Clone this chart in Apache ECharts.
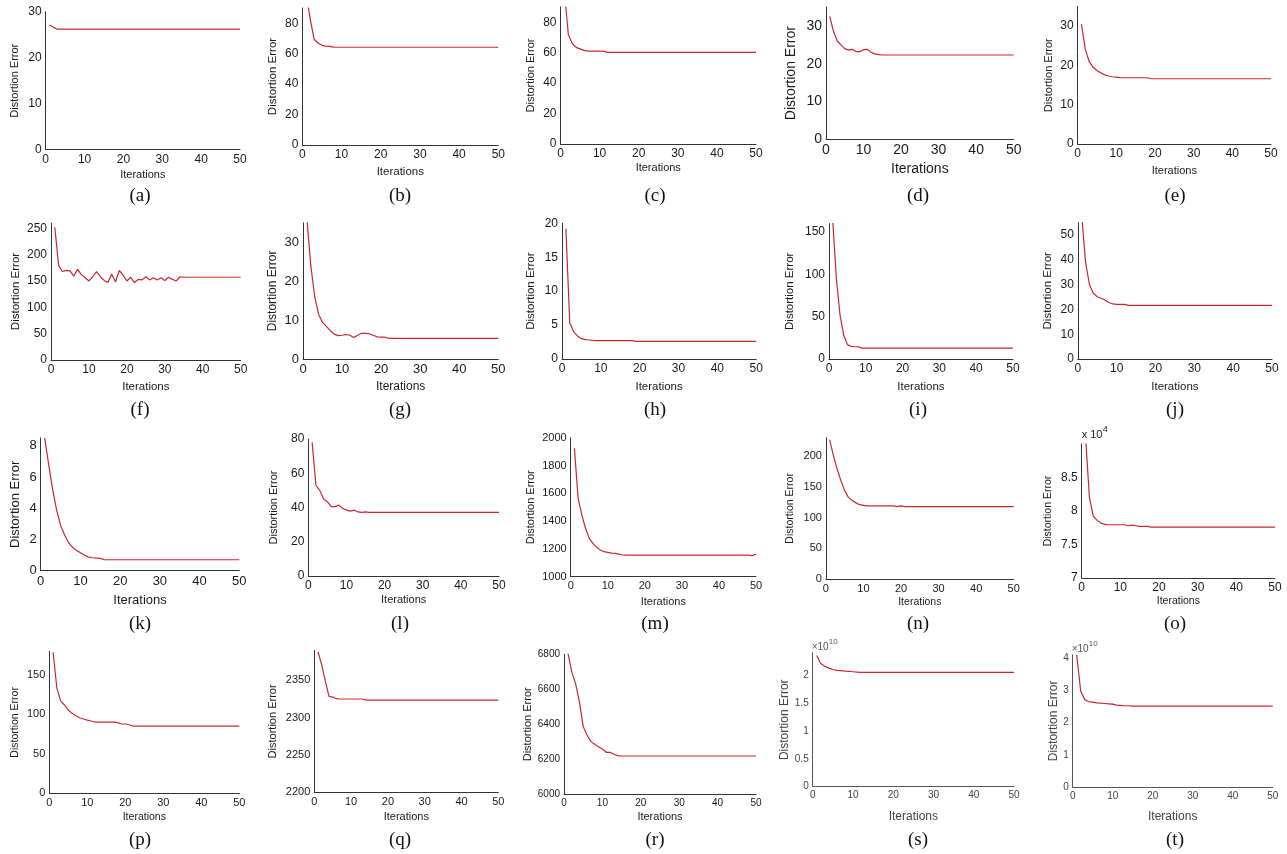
<!DOCTYPE html>
<html><head><meta charset="utf-8">
<script src="https://cdn.jsdelivr.net/npm/echarts@6/dist/echarts.min.js"></script>
<style>html,body{margin:0;padding:0;background:#fff}#c{width:1287px;height:854px}</style>
</head><body><div id="c"></div>
<script>
// ---------------- DATA ----------------
const iterations = [1,2,3,4,5,6,7,8,9,10,11,12,13,14,15,16,17,18,19,20,21,22,23,24,25,26,27,28,29,30,31,32,33,34,35,36,37,38,39,40,41,42,43,44,45,46,47,48,49,50];
const xTicks = [0,10,20,30,40,50];
const panelLabels = ['(a)','(b)','(c)','(d)','(e)','(f)','(g)','(h)','(i)','(j)','(k)','(l)','(m)','(n)','(o)','(p)','(q)','(r)','(s)','(t)'];

const errA = [27.1,26.6,26.2,26.2,26.2,26.2,26.2,26.2,26.2,26.2, 26.2,26.2,26.2,26.2,26.2,26.2,26.2,26.2,26.2,26.2, 26.2,26.2,26.2,26.2,26.2,26.2,26.2,26.2,26.2,26.2, 26.2,26.2,26.2,26.2,26.2,26.2,26.2,26.2,26.2,26.2, 26.2,26.2,26.2,26.2,26.2,26.2,26.2,26.2,26.2,26.2];
const errB = [100,83,69.5,67,65.5,65,64.8,64.3,64.2,64.2, 64.2,64.2,64.2,64.2,64.2,64.2,64.2,64.2,64.2,64.2, 64.2,64.2,64.2,64.2,64.2,64.2,64.2,64.2,64.2,64.2, 64.2,64.2,64.2,64.2,64.2,64.2,64.2,64.2,64.2,64.2, 64.2,64.2,64.2,64.2,64.2,64.2,64.2,64.2,64.2,64.2];
const errC = [100,72,66,63.5,62.5,61.5,61,61,61,61, 61,60.2,60.2,60.2,60.2,60.2,60.2,60.2,60.2,60.2, 60.2,60.2,60.2,60.2,60.2,60.2,60.2,60.2,60.2,60.2, 60.2,60.2,60.2,60.2,60.2,60.2,60.2,60.2,60.2,60.2, 60.2,60.2,60.2,60.2,60.2,60.2,60.2,60.2,60.2,60.2];
const errD = [32.5,28.5,26,25,24,23.6,23.8,23.2,23.2,23.7, 23.8,23,22.6,22.4,22.3,22.3,22.3,22.3,22.3,22.3, 22.3,22.3,22.3,22.3,22.3,22.3,22.3,22.3,22.3,22.3, 22.3,22.3,22.3,22.3,22.3,22.3,22.3,22.3,22.3,22.3, 22.3,22.3,22.3,22.3,22.3,22.3,22.3,22.3,22.3,22.3];
const errE = [30.5,24,21,19.5,18.7,18.1,17.6,17.3,17.1,17.0, 16.9,16.85,16.85,16.85,16.85,16.85,16.85,16.85,16.6,16.6, 16.6,16.6,16.6,16.6,16.6,16.6,16.6,16.6,16.6,16.6, 16.6,16.6,16.6,16.6,16.6,16.6,16.6,16.6,16.6,16.6, 16.6,16.6,16.6,16.6,16.6,16.6,16.6,16.6,16.6,16.6];
const errF = [252,180,168,170,169,159,172,162,156,150, 158,168,158,151,147,163,148,170,161,150, 157,147,153,152,158,152,156,152,156,151, 157,153,150,158,157,157,157,157,157,157, 157,157,157,157,157,157,157,157,157,157];
const errG = [36,24,16,11.5,9.4,8.4,7.2,6.4,6.0,6.1, 6.3,6.1,5.5,6.1,6.6,6.6,6.5,6.1,5.7,5.6, 5.6,5.3,5.3,5.3,5.3,5.3,5.3,5.3,5.3,5.3, 5.3,5.3,5.3,5.3,5.3,5.3,5.3,5.3,5.3,5.3, 5.3,5.3,5.3,5.3,5.3,5.3,5.3,5.3,5.3,5.3];
const errH = [19.2,5.3,4.0,3.4,3.0,2.85,2.8,2.75,2.72,2.72, 2.72,2.72,2.72,2.72,2.72,2.72,2.72,2.72,2.6,2.6, 2.6,2.6,2.6,2.6,2.6,2.6,2.6,2.6,2.6,2.6, 2.6,2.6,2.6,2.6,2.6,2.6,2.6,2.6,2.6,2.6, 2.6,2.6,2.6,2.6,2.6,2.6,2.6,2.6,2.6,2.6];
const errI = [165,95,52,28,17,15,14.5,14.5,12.8,12.8, 12.8,12.8,12.8,12.8,12.8,12.8,12.8,12.8,12.8,12.8, 12.8,12.8,12.8,12.8,12.8,12.8,12.8,12.8,12.8,12.8, 12.8,12.8,12.8,12.8,12.8,12.8,12.8,12.8,12.8,12.8, 12.8,12.8,12.8,12.8,12.8,12.8,12.8,12.8,12.8,12.8];
const errJ = [58,39,30,26.5,25.1,24.5,23.8,22.8,22.2,22, 22,22,21.6,21.6,21.6,21.6,21.6,21.6,21.6,21.6, 21.6,21.6,21.6,21.6,21.6,21.6,21.6,21.6,21.6,21.6, 21.6,21.6,21.6,21.6,21.6,21.6,21.6,21.6,21.6,21.6, 21.6,21.6,21.6,21.6,21.6,21.6,21.6,21.6,21.6,21.6];
const errK = [8.5,6.8,5.2,3.9,2.9,2.3,1.8,1.5,1.3,1.15, 1.0,0.87,0.83,0.81,0.79,0.7,0.7,0.7,0.7,0.7, 0.7,0.7,0.7,0.7,0.7,0.7,0.7,0.7,0.7,0.7, 0.7,0.7,0.7,0.7,0.7,0.7,0.7,0.7,0.7,0.7, 0.7,0.7,0.7,0.7,0.7,0.7,0.7,0.7,0.7,0.7];
const errL = [78,53,50,45,43.4,40.5,40.5,41.4,39.5,38.5, 37.9,38.5,37.4,37.2,37.5,37.2,37.2,37.2,37.2,37.2, 37.2,37.2,37.2,37.2,37.2,37.2,37.2,37.2,37.2,37.2, 37.2,37.2,37.2,37.2,37.2,37.2,37.2,37.2,37.2,37.2, 37.2,37.2,37.2,37.2,37.2,37.2,37.2,37.2,37.2,37.2];
const errM = [1923,1564,1444,1348,1276,1240,1211,1192,1180,1175, 1170,1168,1163,1156,1155,1155,1155,1155,1155,1155, 1155,1155,1155,1155,1155,1155,1155,1155,1155,1155, 1155,1155,1155,1155,1155,1155,1155,1155,1155,1155, 1155,1155,1155,1155,1155,1155,1155,1155,1152,1162];
const errN = [227,201,179,160,144,133,128,124,121,120, 119,119,119,119,119,119,119,119,118,119, 118,118,118,118,118,118,118,118,118,118, 118,118,118,118,118,118,118,118,118,118, 118,118,118,118,118,118,118,118,118,118];
const errO = [9.1,8.2,7.92,7.86,7.82,7.8,7.795,7.795,7.795,7.795, 7.795,7.78,7.79,7.78,7.77,7.77,7.77,7.76,7.76,7.76, 7.76,7.76,7.76,7.76,7.76,7.76,7.76,7.76,7.76,7.76, 7.76,7.76,7.76,7.76,7.76,7.76,7.76,7.76,7.76,7.76, 7.76,7.76,7.76,7.76,7.76,7.76,7.76,7.76,7.76,7.76];
const errP = [179,133,117,112,105.6,101.4,98.4,95.9,94.2,92.9, 91.7,90.4,90.4,90.4,90.4,90.4,90.4,89.6,87.9,87.9, 87,85.3,85.3,85.3,85.3,85.3,85.3,85.3,85.3,85.3, 85.3,85.3,85.3,85.3,85.3,85.3,85.3,85.3,85.3,85.3, 85.3,85.3,85.3,85.3,85.3,85.3,85.3,85.3,85.3,85.3];
const errQ = [2388,2371,2349,2328.5,2327.6,2325.4,2325,2325,2325,2325, 2325,2325,2325,2323.5,2323.5,2323.5,2323.5,2323.5,2323.5,2323.5, 2323.5,2323.5,2323.5,2323.5,2323.5,2323.5,2323.5,2323.5,2323.5,2323.5, 2323.5,2323.5,2323.5,2323.5,2323.5,2323.5,2323.5,2323.5,2323.5,2323.5, 2323.5,2323.5,2323.5,2323.5,2323.5,2323.5,2323.5,2323.5,2323.5,2323.5];
const errR = [6810,6701,6634,6530,6387,6339,6301,6286,6272,6259, 6240,6240,6229,6221,6219,6219,6219,6219,6219,6219, 6219,6219,6219,6219,6219,6219,6219,6219,6219,6219, 6219,6219,6219,6219,6219,6219,6219,6219,6219,6219, 6219,6219,6219,6219,6219,6219,6219,6219,6219,6219];
const errS = [2.35,2.21,2.16,2.125,2.10,2.085,2.08,2.07,2.066,2.06, 2.054,2.048,2.048,2.048,2.048,2.048,2.048,2.048,2.048,2.048, 2.048,2.048,2.048,2.048,2.048,2.048,2.048,2.048,2.048,2.048, 2.048,2.048,2.048,2.048,2.048,2.048,2.048,2.048,2.048,2.048, 2.048,2.048,2.048,2.048,2.048,2.048,2.048,2.048,2.048,2.048];
const errT = [4.1,2.97,2.71,2.65,2.63,2.61,2.6,2.59,2.58,2.57, 2.54,2.53,2.52,2.52,2.51,2.51,2.51,2.51,2.51,2.51, 2.51,2.51,2.51,2.51,2.51,2.51,2.51,2.51,2.51,2.51, 2.51,2.51,2.51,2.51,2.51,2.51,2.51,2.51,2.51,2.51, 2.51,2.51,2.51,2.51,2.51,2.51,2.51,2.51,2.51,2.51];

// y-axis ranges and tick labels
const yRanges = [[0,30],[0,90],[0,90],[0,35],[0,35],[0,260],[0,35],[0,20],[0,160],[0,55],[0,8.5],[0,80],[1000,2000],[0,230],[7,9],[0,180],[2200,2390],[6000,6800],[0,2.4],[0,4.1]];
const yTicks = [
  [0,10,20,30],[0,20,40,60,80],[0,20,40,60,80],[0,10,20,30],[0,10,20,30],
  [0,50,100,150,200,250],[0,10,20,30],[0,5,10,15,20],[0,50,100,150],[0,10,20,30,40,50],
  [0,2,4,6,8],[0,20,40,60,80],[1000,1200,1400,1600,1800,2000],[0,50,100,150,200],[7,7.5,8,8.5],
  [0,50,100,150],[2200,2250,2300,2350],[6000,6200,6400,6600,6800],[0,0.5,1,1.5,2],[0,1,2,3,4]
];
const multipliers = [{panel:14, base:'x 10', exp:'4'},{panel:18, base:'\u00d710', exp:'10'},{panel:19, base:'\u00d710', exp:'10'}];
const errors = [errA,errB,errC,errD,errE,errF,errG,errH,errI,errJ,errK,errL,errM,errN,errO,errP,errQ,errR,errS,errT];

// ---------------- LAYOUT / STYLE ----------------
// [x at 0, x at 50, y top, y bottom]
const boxes = [
 [45.7,240,11.7,149.7],[302.3,498.3,8,145],[560.5,756,7,144],[826,1013.7,7,139.3],[1077.6,1271,6.4,144],
 [51,240.7,223,360],[303,498.3,222.8,359],[562,756.2,223.3,359],[829,1012.9,223.6,359],[1077.8,1272,222.6,359],
 [40.7,239.3,437.9,570.7],[308.3,499,439,576],[570.7,756,437.7,576.7],[825.9,1013.7,437.8,579],[1081.7,1275,444,578],
 [49.3,239.3,651.4,793.3],[314.3,498.3,650.5,792.3],[564,756,654.3,794.3],[812.7,1014,652.8,786.7],[1072.7,1272.7,654.8,787]
];
const labelSize = [12,12,12,14,12, 12,13,12,12,12, 13,12,11,11,12, 11,11,10,10,10];
const nameSize  = [11,11.5,11,14,11, 11.5,12,11.5,11.5,11.5, 13,11,11,10.5,10.5, 10.5,11,11,12,12];
const yNameDist = [30.7,29.6,30,35,29, 35,30,31,39,29.5, 25,34,40,36,33, 34,41.6,34,22,16];
const xNameDist = [25.3,26.7,24.3,30,26.7, 26.7,27.7,27.7,27.4,27.4, 29.3,24,25,22.7,22.7, 23.4,24.4,23,30,29.7];
const capX = [140,400,655,918,1175];
const capY = [196,410,624,840];
const FONT = '"Liberation Sans", Arial, sans-serif';
const LINE = '#cc2630';
const plain = v => String(v);

const grid = [], xAxis = [], yAxis = [], series = [], graphic = [];
errors.forEach((err, i) => {
  const b = boxes[i];
  const light = i >= 18;
  const txt = light ? '#444' : '#1a1a1a';
  const axc = light ? '#555' : '#333';
  grid.push({left: b[0], top: b[2], width: b[1]-b[0], height: b[3]-b[2], containLabel: false});
  xAxis.push({
    type: 'value', gridIndex: i, min: 0, max: 50, interval: 10,
    axisLine: {show: true, onZero: false, lineStyle: {color: axc, width: 1}},
    axisTick: {show: false},
    axisLabel: {customValues: xTicks, formatter: plain, fontSize: labelSize[i], color: txt, margin: 4, fontFamily: FONT},
    splitLine: {show: false},
    name: 'Iterations', nameLocation: 'middle', nameGap: xNameDist[i] - nameSize[i]/2,
    nameTextStyle: {fontSize: nameSize[i], color: txt, fontFamily: FONT}
  });
  const r = yRanges[i];
  yAxis.push({
    type: 'value', gridIndex: i, min: r[0], max: r[1],
    axisLine: {show: true, onZero: false, lineStyle: {color: axc, width: 1}},
    axisTick: {show: false},
    axisLabel: {customValues: yTicks[i], formatter: plain, fontSize: labelSize[i], color: txt, margin: 4, fontFamily: FONT},
    splitLine: {show: false},
    name: 'Distortion Error', nameLocation: 'middle', nameRotate: 90, nameGap: yNameDist[i] - nameSize[i]/2,
    nameTextStyle: {fontSize: nameSize[i], color: txt, fontFamily: FONT}
  });
  series.push({
    type: 'line', xAxisIndex: i, yAxisIndex: i, symbol: 'none', showSymbol: false, clip: true,
    data: iterations.map((it, j) => [it, err[j]]),
    lineStyle: {color: LINE, width: 1.2}, animation: false
  });
  graphic.push({type: 'text', x: capX[i % 5], y: capY[Math.floor(i / 5)],
    style: {text: panelLabels[i], fontSize: 19, fontFamily: '"Liberation Serif", "Times New Roman", serif', fill: '#111',
      align: 'center', verticalAlign: 'middle', textAlign: 'center', textVerticalAlign: 'middle'}});
});
multipliers.forEach(m => {
  const b = boxes[m.panel];
  const light = m.panel >= 18;
  const fs = light ? 10 : 11;
  const baseX = b[0] + (light ? -1 : 0);
  const baseY = b[2] - (light ? 6 : 9);
  graphic.push({type: 'text', x: baseX, y: baseY,
    style: {text: m.base, fontSize: fs, fontFamily: FONT, fill: light ? '#555' : '#222', align: 'left', verticalAlign: 'middle', textAlign: 'left', textVerticalAlign: 'middle'}});
  graphic.push({type: 'text', x: baseX + (light ? 17 : 21), y: baseY - 5,
    style: {text: m.exp, fontSize: fs - 2, fontFamily: FONT, fill: light ? '#555' : '#222', align: 'left', verticalAlign: 'middle', textAlign: 'left', textVerticalAlign: 'middle'}});
});

const chart = echarts.init(document.getElementById('c'), null, {renderer: 'canvas'});
chart.setOption({animation: false, backgroundColor: '#fff', grid, xAxis, yAxis, series, graphic});
</script>
</body></html>
